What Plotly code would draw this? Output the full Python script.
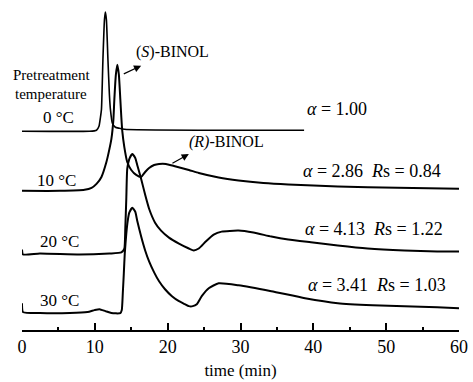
import plotly.graph_objects as go

# ---- data (time in min, detector signal in arbitrary units, traces offset) ----
t_0C = [0, 9.27, 10.23, 10.57, 10.77, 10.91, 11.11, 11.32, 11.45, 11.59, 11.80, 12.0, 12.14, 12.41, 12.82, 13.36, 14.05, 24.27, 38.73]
s_0C = [200, 200, 201, 205, 214, 222, 272, 312, 320, 312, 272, 237, 222, 208, 204, 203, 202, 201, 201]

t_10C = [0, 5.18, 8.59, 9.55, 10.23, 10.91, 11.59, 12.0, 12.27, 12.55, 12.68, 12.89, 13.09, 13.30, 13.50, 13.64, 13.77, 14.05, 14.45, 15.0, 15.68, 16.36, 16.91, 17.45, 18.14, 18.82, 19.77, 20.86, 22.91, 24.27, 27.0, 29.73, 33.14, 36.55, 43.36, 51.55, 60.0]
s_10C = [140, 140, 141, 143, 147, 154, 169, 182, 192, 212, 232, 257, 267, 257, 232, 214, 200, 184, 169, 161, 156, 154, 159, 163, 166, 167, 167, 165, 161, 158, 153.5, 150.5, 148, 146.5, 144.5, 143, 142]

t_20C = [0, 0.14, 2.45, 7.91, 12.0, 13.64, 14.05, 14.18, 14.32, 14.45, 14.73, 15.14, 15.55, 15.82, 16.36, 16.91, 17.45, 18.27, 19.09, 20.18, 21.55, 22.91, 23.59, 24.27, 25.23, 26.32, 27.41, 29.73, 31.77, 34.23, 36.55, 39.95, 43.36, 47.45, 52.50, 57.0, 60.0]
s_20C = [81, 76, 77, 76, 77, 78, 82, 102, 132, 162, 172, 177, 173, 166, 152, 136, 122, 108, 100, 93, 87, 82, 80, 82, 89, 96, 99, 100, 98, 94, 91, 88, 85, 82, 80, 79, 79]

t_30C = [0, 0.14, 2.45, 6.55, 9.0, 9.95, 10.64, 11.45, 12.27, 13.50, 13.70, 13.84, 13.98, 14.11, 14.32, 14.52, 14.73, 15.14, 15.55, 15.82, 16.36, 16.91, 17.45, 18.14, 18.82, 19.64, 20.59, 21.55, 22.36, 22.91, 23.45, 24.0, 24.68, 25.64, 27.0, 29.73, 34.23, 38.86, 43.36, 48.14, 52.50, 57.0, 60.0]
s_30C = [27, 18, 17, 17, 18, 20, 21, 19, 17, 17, 20, 37, 57, 77, 97, 110, 118, 123, 119, 110, 94, 80, 69, 58, 49, 41, 34, 29, 26, 24, 24, 26, 34, 42, 47, 45, 39, 32, 27, 25, 24, 23, 22]

x_ticks = [0, 10, 20, 30, 40, 50, 60]

FONT = "Liberation Serif, Times New Roman, serif"

fig = go.Figure()
for t, s, w in [(t_0C, s_0C, 1.6), (t_10C, s_10C, 2), (t_20C, s_20C, 2), (t_30C, s_30C, 2)]:
    fig.add_trace(go.Scatter(x=t, y=s, mode="lines",
                             line=dict(color="black", width=w, shape="spline", smoothing=0.5),
                             showlegend=False, hoverinfo="skip"))

def txt(x, y, text, size=16, anchor="center"):
    fig.add_annotation(x=x, y=y, xref="x", yref="y", text=text, showarrow=False,
                       xanchor=anchor, yanchor="middle",
                       font=dict(family=FONT, size=size, color="black"))

txt(4.09, 257, "Pretreatment", 15)
txt(3.95, 237, "temperature", 15)
txt(5.05, 214, "0 °C", 17)
txt(4.77, 150, "10 °C", 17)
txt(5.18, 89, "20 °C", 17)
txt(5.18, 30, "30 °C", 17)

txt(15.41, 280, "(<i>S</i>)-BINOL", 16, "left")
txt(22.64, 189, "<i>(R)</i>-BINOL", 16, "left")

txt(38.86, 222, "<i>α</i> = 1.00", 18, "left")
txt(38.32, 160, "<i>α</i> = 2.86  <i>R</i>s = 0.84", 18, "left")
txt(38.59, 102, "<i>α</i> = 4.13  <i>R</i>s = 1.22", 18, "left")
txt(39.0, 45, "<i>α</i> = 3.41  <i>R</i>s = 1.03", 18, "left")

for (hx, hy, tx, ty) in [(16.36, 266, 13.77, 257), (22.91, 177, 20.45, 167)]:
    fig.add_annotation(x=hx, y=hy, ax=tx, ay=ty, xref="x", yref="y", axref="x", ayref="y",
                       text="", showarrow=True, arrowhead=2, arrowsize=1.2, arrowwidth=1.2,
                       arrowcolor="black")

fig.update_layout(
    width=473, height=382,
    margin=dict(l=22, r=11, t=5, b=50),
    plot_bgcolor="white", paper_bgcolor="white",
    font=dict(family=FONT, color="black"),
    xaxis=dict(range=[0, 60], tickvals=x_ticks, showgrid=False, zeroline=False,
               showline=True, linecolor="black", linewidth=1.5,
               ticks="inside", ticklen=7, tickwidth=1.5, tickcolor="black",
               minor=dict(dtick=5, ticks="inside", ticklen=3, tickwidth=1.5, tickcolor="black"),
               tickfont=dict(family=FONT, size=18, color="black"),
               title=dict(text="time (min)", font=dict(family=FONT, size=17, color="black"), standoff=8)),
    yaxis=dict(range=[0, 327], visible=False, showgrid=False, zeroline=False),
)

fig.write_html("out.html", config={"displayModeBar": False},
               post_script="document.body.style.margin='0';document.body.style.overflow='hidden';")
